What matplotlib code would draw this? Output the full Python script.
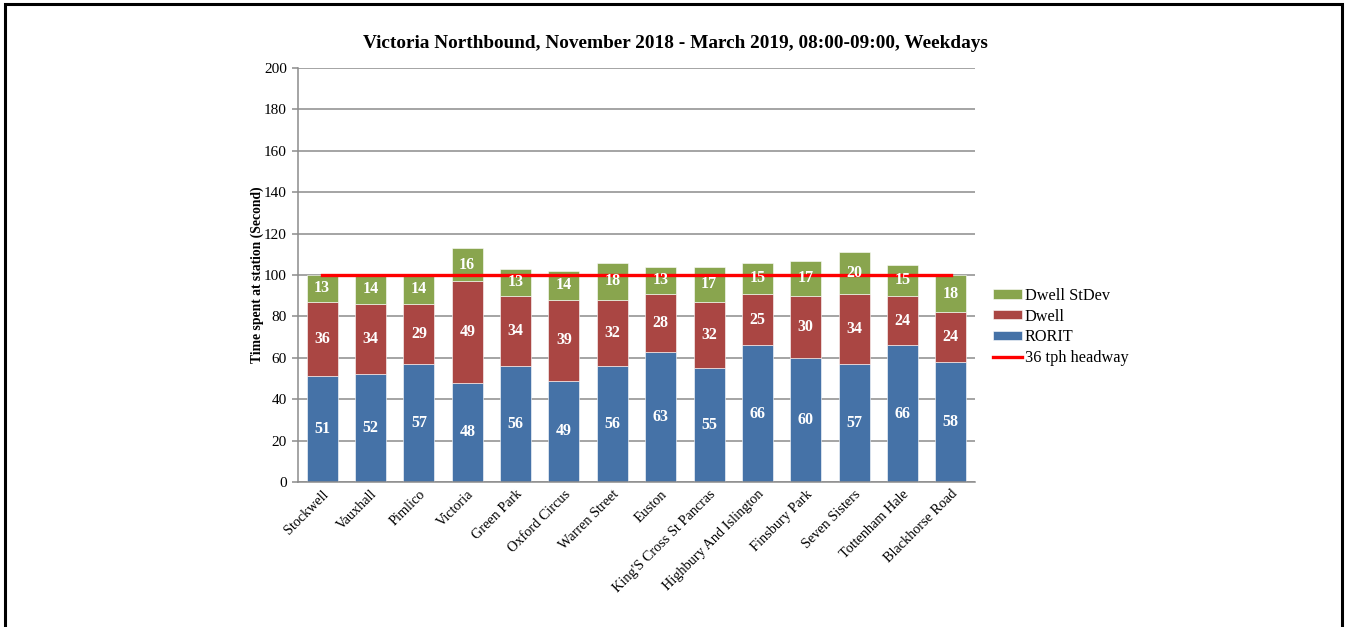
import matplotlib
matplotlib.use("Agg")
import matplotlib.pyplot as plt
from matplotlib.patches import Rectangle
import numpy as np

stations = ["Stockwell", "Vauxhall", "Pimlico", "Victoria", "Green Park", "Oxford Circus",
            "Warren Street", "Euston", "King'S Cross St Pancras", "Highbury And Islington",
            "Finsbury Park", "Seven Sisters", "Tottenham Hale", "Blackhorse Road"]
rorit = [51, 52, 57, 48, 56, 49, 56, 63, 55, 66, 60, 57, 66, 58]
dwell = [36, 34, 29, 49, 34, 39, 32, 28, 32, 25, 30, 34, 24, 24]
dwell_sd = [13, 14, 14, 16, 13, 14, 18, 13, 17, 15, 17, 20, 15, 18]
headway = 100
yticks = [0, 20, 40, 60, 80, 100, 120, 140, 160, 180, 200]

plt.rcParams['font.family'] = ['Liberation Serif', 'DejaVu Serif']

W, H = 1345, 627
fig = plt.figure(figsize=(W / 100, H / 100), dpi=100)
ax = fig.add_axes([298 / W, 1 - 482 / H, (975 - 298) / W, (482 - 68) / H])

c_blue = "#4572A7"
c_red = "#AA4643"
c_green = "#89A54E"

x = np.arange(len(stations))
r = np.array(rorit)
d = np.array(dwell)
s = np.array(dwell_sd)
bw = 0.64
b1 = ax.bar(x, r, bw, color=c_blue, edgecolor="white", linewidth=0.4, label="RORIT", zorder=2)
b2 = ax.bar(x, d, bw, bottom=r, color=c_red, edgecolor="white", linewidth=0.4, label="Dwell", zorder=2)
b3 = ax.bar(x, s, bw, bottom=r + d, color=c_green, edgecolor="white", linewidth=0.4, label="Dwell StDev", zorder=2)
ln, = ax.plot(x, [headway] * len(x), color="#FF0000", lw=2.4, label="36 tph headway", zorder=3)

for i in range(len(x)):
    ax.text(x[i], r[i] / 2, str(r[i]), ha="center", va="center", color="white", fontsize=11.5, fontweight="bold", zorder=4)
    ax.text(x[i], r[i] + d[i] / 2, str(d[i]), ha="center", va="center", color="white", fontsize=11.5, fontweight="bold", zorder=4)
    ax.text(x[i], r[i] + d[i] + s[i] / 2, str(s[i]), ha="center", va="center", color="white", fontsize=11.5, fontweight="bold", zorder=4)

ax.set_xlim(-0.5, len(x) - 0.5)
ax.set_ylim(0, 200)
ax.set_yticks(yticks)
ax.set_yticklabels([str(t) for t in yticks], fontsize=11)
ax.yaxis.grid(True, color="#8c8c8c", lw=1.1, zorder=0)
ax.set_axisbelow(True)
ax.tick_params(axis="y", length=4, color="#8c8c8c", width=1.1, pad=4)
ax.tick_params(axis="x", length=0, pad=4)
ax.set_xticks(x)
ax.set_xticklabels(stations, rotation=45, ha="right", rotation_mode="anchor", fontsize=10.3)
for sp in ["top", "right"]:
    ax.spines[sp].set_visible(False)
for sp in ["left", "bottom"]:
    ax.spines[sp].set_color("#8c8c8c")
    ax.spines[sp].set_linewidth(1.1)
ax.set_ylabel("Time spent at station (Second)", fontsize=9.8, fontweight="bold", labelpad=0)

fig.text(675 / W, 1 - 43.5 / H, "Victoria Northbound, November 2018 - March 2019, 08:00-09:00, Weekdays",
         ha="center", va="center", fontsize=13.9, fontweight="bold")

leg = fig.legend([b3, b2, b1, ln], ["Dwell StDev", "Dwell", "RORIT", "36 tph headway"],
                 loc="center left", bbox_to_anchor=(993 / W, 1 - 327 / H), frameon=False,
                 borderaxespad=0, borderpad=0,
                 fontsize=11.7, handlelength=1.8, handleheight=0.5, handletextpad=0.15,
                 labelspacing=0.3)

fig.patches.append(Rectangle((5 / W, -0.05), (1342 - 5) / W, 1 - 4 / H + 0.05,
                             transform=fig.transFigure, fill=False, edgecolor="black", lw=2.2))

fig.savefig("out.png", dpi=100)
